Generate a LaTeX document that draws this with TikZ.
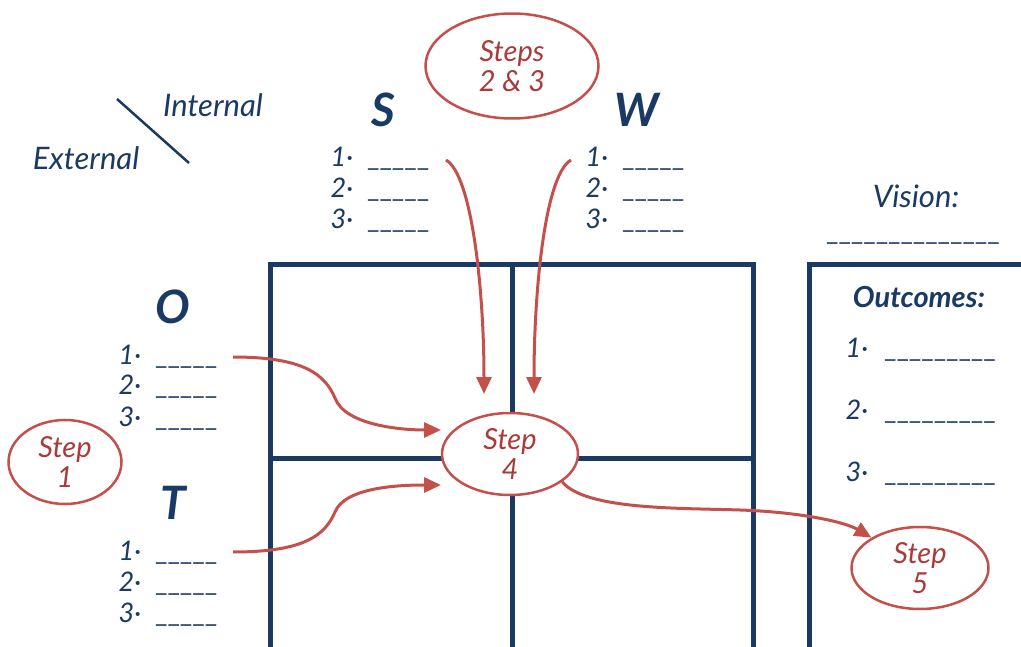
\documentclass[tikz,border=0pt]{standalone}
\usepackage{fontspec}
\setmainfont{Lato}
\usetikzlibrary{arrows.meta,shapes.geometric}
\definecolor{navy}{HTML}{1B3A63}
\definecolor{redl}{HTML}{C4504C}
\definecolor{redt}{HTML}{A83C3A}
\tikzset{
  grid/.style={draw=navy,line width=5pt},
  lbl/.style={text=navy,font=\itshape\fontsize{31}{31}\selectfont,inner sep=0pt},
  big/.style={text=navy,font=\bfseries\itshape\fontsize{46}{46}\selectfont,inner sep=0pt},
  num/.style={text=navy,font=\itshape\fontsize{27}{27}\selectfont,inner sep=0pt,anchor=base},
  blank/.style={text=navy,font=\fontsize{27}{27}\selectfont,inner sep=0pt,anchor=base west},
  stepnode/.style={ellipse,draw=redl,line width=2.5pt,fill=white,text=redt,
     font=\itshape\fontsize{29}{30}\selectfont,align=center,inner sep=0pt},
  flow/.style={draw=redl,line width=3pt,-{Triangle[length=17pt,width=15pt]}}
}
\begin{document}
\begin{tikzpicture}[x=1pt,y=-1pt]
\useasboundingbox (0,0) rectangle (1021,647);
\clip (0,0) rectangle (1021,647);
% grid
\draw[grid] (270,665) -- (270,265) -- (753,265) -- (753,665);
\draw[grid] (512,265) -- (512,665);
\draw[grid] (270,458) -- (753,458);
\draw[grid] (809,665) -- (809,265) -- (1040,265);
% internal / external
\coordinate (d1) at (117,99);
\coordinate (d2) at (189,163);
\draw[navy,line width=2.5pt] (d1) -- (d2);
\node[lbl] (int) at (213,105) {Internal};
\node[lbl] (ext) at (86,158) {External};
% letters
\node[big] (S) at (383,110) {S};
\node[big] (W) at (637,110) {W};
\node[big] (O) at (173,307) {O};
\node[big] (T) at (173,503) {T};
% lists
\foreach \nm/\x/\y in {s/342/167, w/597/167, o/130/364, t/130/560}{
  \foreach \i in {1,2,3}{
    \node[num] (\nm n\i) at (\x,{\y+(\i-1)*31}) {\i·};
    \node[blank] (\nm b\i) at ({\x+25},{\y+(\i-1)*31}) {\_\_\_\_\_};
  }
}
% vision / outcomes
\node[lbl] (vis) at (916,196) {Vision:};
\node[blank] (visb) at (826,241) {\_\_\_\_\_\_\_\_\_\_\_\_\_\_};
\node[lbl,font=\bfseries\itshape\fontsize{29}{29}\selectfont] (out) at (919,297) {Outcomes:};
\foreach \i in {1,2,3}{
  \node[num] (on\i) at (857,{357+(\i-1)*62}) {\i·};
  \node[blank] (ob\i) at (884,{357+(\i-1)*62}) {\_\_\_\_\_\_\_\_\_};
}
% steps
\node[stepnode,minimum width=173pt,minimum height=105pt] (s23) at (512,66) {Steps\\2 \& 3};
\node[stepnode,minimum width=113pt,minimum height=84pt] (s1) at (65,462) {Step\\1};
\node[stepnode,minimum width=136pt,minimum height=82pt] (s4) at (510,454) {Step\\4};
\node[stepnode,minimum width=137pt,minimum height=82pt] (s5) at (920,568) {Step\\5};
% arrows
\coordinate (sa) at (446,160);
\coordinate (sae) at (484,394);
\coordinate (wa) at (571,160);
\coordinate (wae) at (534,394);
\coordinate (oa) at (233,357);
\coordinate (oam) at (335,398);
\coordinate (oae) at (441,430);
\coordinate (ta) at (233,552);
\coordinate (tam) at (335,512);
\coordinate (tae) at (441,485);
\coordinate (fm) at (740,510);
\draw[flow] (sa) .. controls (472,175) and (484,290) .. (sae);
\draw[flow] (wa) .. controls (545,175) and (534,290) .. (wae);
\draw[flow] (oa) .. controls (305,357) and (325,375) .. (oam) .. controls (345,425) and (400,430) .. (oae);
\draw[flow] (ta) .. controls (305,552) and (325,535) .. (tam) .. controls (345,487) and (400,485) .. (tae);
\draw[flow] (s4.-28) .. controls (585,510) and (680,508) .. (fm) .. controls (800,512) and (845,522) .. (s5.148);
\end{tikzpicture}
\end{document}
